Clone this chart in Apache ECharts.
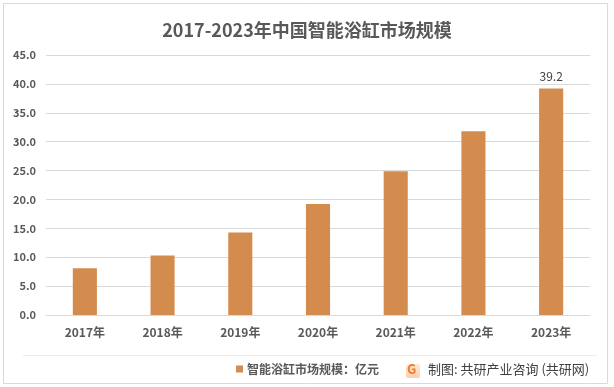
<!DOCTYPE html>
<html>
<head>
<meta charset="utf-8">
<script src="https://cdn.jsdelivr.net/npm/echarts@6/dist/echarts.min.js"></script>
<style>
html,body{margin:0;padding:0;background:#fff;}
#c{width:614px;height:387px;}
</style>
</head>
<body>
<div id="c"></div>
<script>
var categories = ['2017年','2018年','2019年','2020年','2021年','2022年','2023年'];
var values = [8.1, 10.3, 14.3, 19.2, 24.9, 31.8, 39.2];
var seriesName = '智能浴缸市场规模：亿元';
var titleText = '2017-2023年中国智能浴缸市场规模';
var sourceText = '制图: 共研产业咨询 (共研网)';

var font = '"Microsoft YaHei","Noto Sans CJK SC",sans-serif';
var chart = echarts.init(document.getElementById('c'), null, {renderer:'canvas'});
chart.setOption({
  backgroundColor:'#fff',
  animation:false,
  title:{
    text:titleText, left:'center', top:16,
    textStyle:{fontSize:18, fontWeight:'bold', color:'#595959', fontFamily:font}
  },
  grid:{left:46, right:24, top:55, bottom:72, containLabel:false},
  xAxis:{
    type:'category', data:categories,
    axisLine:{show:true, lineStyle:{color:'#d9d9d9'}},
    axisTick:{show:false},
    axisLabel:{color:'#595959', fontSize:12, fontWeight:'bold', margin:11, fontFamily:font}
  },
  yAxis:{
    type:'value', min:0, max:45, interval:5,
    axisLine:{show:false}, axisTick:{show:false},
    splitLine:{lineStyle:{color:'#d9d9d9'}},
    axisLabel:{color:'#595959', fontSize:11, fontWeight:'bold', margin:10,
      formatter:function(v){return v.toFixed(1);}, fontFamily:font}
  },
  legend:{
    show:true, left:231, top:358, itemWidth:7, itemHeight:7, itemGap:4,
    icon:'rect',
    textStyle:{color:'#595959', fontSize:12, fontWeight:'bold', fontFamily:font, padding:[0,0,0,-1]},
    data:[seriesName]
  },
  series:[{
    name:seriesName, type:'bar', data:values, barWidth:'31%',
    itemStyle:{color:'#d48c4e'},
    label:{show:true, position:'top', color:'#404040', fontSize:12, distance:6, fontFamily:font,
      formatter:function(p){return p.dataIndex===values.length-1 ? p.value.toFixed(1) : '';}}
  }],
  graphic:[
    {type:'rect', shape:{x:3.5,y:3.5,width:604,height:380}, style:{fill:'none', stroke:'#d9d9d9', lineWidth:1}, silent:true},
    {type:'line', shape:{x1:23,y1:355.5,x2:597,y2:355.5}, style:{stroke:'#ececec', lineWidth:1}},
    {type:'rect', shape:{x:406,y:364,width:14,height:14,r:2},
      style:{fill:new echarts.graphic.LinearGradient(0,0,0,1,[{offset:0,color:'#fde7d2'},{offset:1,color:'#fbd0b0'}])}},
    {type:'text', left:407, top:363, style:{text:'G', fill:'#f07a2a', font:'bold 13px '+font}},
    {type:'text', left:428, top:363, style:{text:sourceText, fill:'#404040', font:'13px '+font}}
  ]
});
</script>
</body>
</html>
